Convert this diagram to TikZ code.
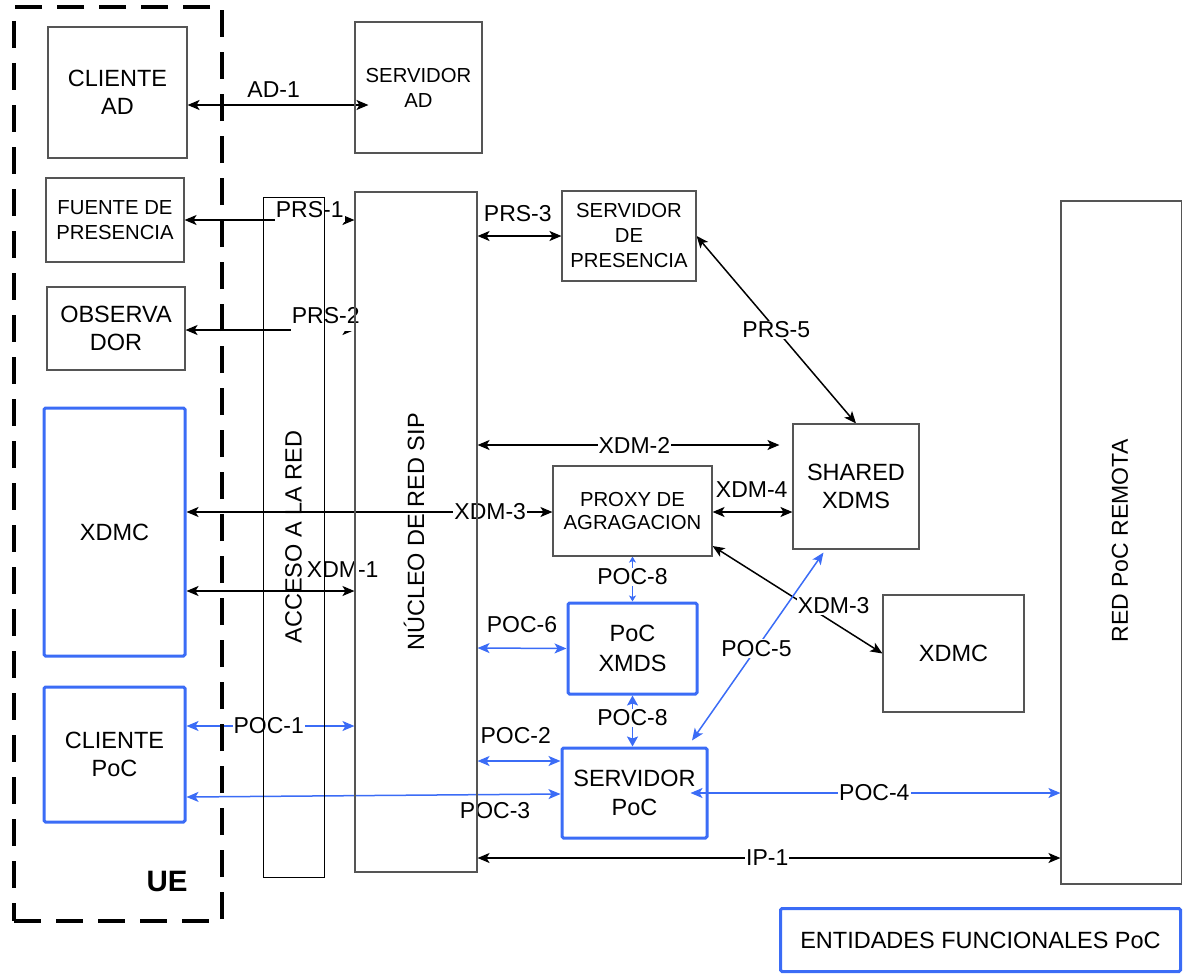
\documentclass[tikz,border=0pt]{standalone}
\usepackage{fontspec}
\setmainfont{Liberation Sans}
\usetikzlibrary{arrows.meta,calc}
\pgfdeclarelayer{bg}
\pgfsetlayers{bg,main}
\definecolor{pocblue}{RGB}{59,108,246}
\definecolor{boxgray}{RGB}{85,85,85}
\begin{document}
\begin{tikzpicture}[x=1pt,y=-1pt,
 box/.style={draw=boxgray, line width=1.1pt, inner sep=0pt, align=center, text=black},
 pocbox/.style={draw=pocblue, line width=3pt, rounded corners=1.5pt, inner sep=0pt, align=center},
 wh/.style 2 args={minimum width=#1pt, minimum height=#2pt},
 big/.style={font=\fontsize{23.5}{28}\selectfont},
 med/.style={font=\fontsize{20.3}{25}\selectfont},
 lab/.style={font=\fontsize{23}{26}\selectfont, inner sep=1pt},
 onl/.style={lab, fill=white},
 conn/.style={line width=1.5pt, {Stealth[length=12pt,width=10pt,inset=3pt]}-{Stealth[length=12pt,width=10pt,inset=3pt]}},
 pconn/.style={conn, draw=pocblue},
 smallp/.style={line width=1.5pt, draw=pocblue, {Stealth[length=6pt,width=7pt,inset=1.5pt]}-{Stealth[length=6pt,width=7pt,inset=1.5pt]}},
]
\useasboundingbox (0,0) rectangle (1183,974);

% UE region
\node[draw, line width=3.5pt, dash pattern=on 27pt off 15pt, wh={208}{914}, inner sep=0pt] (ue) at (118,464) {};
\node[font=\fontsize{29.5}{32}\selectfont\bfseries] (uelabel) at (167,881) {UE};

% boxes
\node[box, big, wh={139}{131}] (clientead) at (117.5,92.5) {CLIENTE\\AD};
\node[box, med, wh={127}{131}] (servad) at (418.5,87.5) {SERVIDOR\\AD};
\node[box, med, wh={138}{84}] (fuente) at (115,220) {FUENTE DE\\PRESENCIA};
\node[box, big, wh={138}{83}] (obs) at (116,328.5) {OBSERVA\\DOR};
\node[pocbox, big, wh={141}{248}] (xdmcL) at (114.5,532) {XDMC};
\node[pocbox, big, wh={141}{135}] (cpoc) at (114.5,754.5) {CLIENTE\\PoC};
\node[box, draw=black, line width=0.9pt, wh={61}{680}] (acceso) at (293.5,537) {};
\node[big, rotate=90] (accesotxt) at (293.5,537) {ACCESO A LA RED};
\node[box, wh={122}{680}] (nucleo) at (416,532) {};
\node[big, rotate=90] (nucleotxt) at (414,532) {NÚCLEO DE RED SIP};
\node[box, med, wh={134}{90}] (servpres) at (629,236) {SERVIDOR\\DE\\PRESENCIA};
\node[box, font=\fontsize{23.5}{27.5}\selectfont, wh={126}{125}] (shared) at (856,486.5) {SHARED\\XDMS};
\node[box, font=\fontsize{20.3}{23}\selectfont, wh={159}{90}] (proxy) at (632.5,511) {PROXY DE\\AGRAGACION};
\node[pocbox, font=\fontsize{23.5}{30}\selectfont, wh={129}{91}] (pocx) at (632.5,648.5) {PoC\\XMDS};
\node[pocbox, font=\fontsize{23.5}{28.5}\selectfont, wh={145}{90}] (servpoc) at (634.5,793) {SERVIDOR\\PoC};
\node[box, big, wh={141}{117}] (xdmcR) at (953.5,653.5) {XDMC};
\node[box, wh={120.5}{683}] (red) at (1121.25,542.5) {};
\node[font=\fontsize{23}{26}\selectfont, rotate=90] (redtxt) at (1120,541) {RED PoC REMOTA};
\node[pocbox, font=\fontsize{23.5}{28}\selectfont, wh={400}{63}] (ent) at (980.5,940) {ENTIDADES FUNCIONALES PoC};

\begin{pgfonlayer}{bg}
% black connectors
\draw[conn, shorten >=-14pt] (clientead.east |- 0,105) -- (servad.west |- 0,105)
  node[pos=.516, anchor=base, yshift=8pt, lab] (lad1) {AD-1};
\draw[conn] (fuente.east |- 0,220) -- (nucleo.west |- 0,220)
  node[pos=.737, anchor=base, yshift=3pt, onl, text depth=3.5pt] (lprs1) {PRS-1};
\draw[conn] (obs.east |- 0,330) -- (nucleo.west |- 0,330)
  node[pos=.83, anchor=base, yshift=7pt, onl, text depth=7.3pt] (lprs2) {PRS-2};
\draw[conn] (nucleo.east |- 0,236) -- (servpres.west)
  node[pos=.48, anchor=base, yshift=15pt, lab] (lprs3) {PRS-3};
\draw[conn] (servpres.east) -- (shared.north)
  node[pos=.5, onl] (lprs5) {PRS-5};
\draw[conn, shorten >=13pt] (nucleo.east |- 0,445) -- (shared.west |- 0,445)
  node[pos=.498, onl] (lxdm2) {XDM-2};
\draw[conn] (xdmcL.east |- 0,512) -- (proxy.west |- 0,512)
  node[pos=.83, onl] (lxdm3a) {XDM-3};
\draw[conn] (proxy.east |- 0,512) -- (shared.west |- 0,512)
  node[pos=.49, anchor=base, yshift=14.5pt, lab] (lxdm4) {XDM-4};
\draw[conn] (proxy.east |- 0,546) -- (xdmcR.west)
  node[pos=.713, yshift=17pt, onl] (lxdm3b) {XDM-3};
\draw[conn] (xdmcL.east |- 0,591) -- (nucleo.west |- 0,591)
  node[pos=.93, anchor=base, yshift=14pt, lab] (lxdm1) {XDM-1};
\draw[conn] (nucleo.east |- 0,858) -- (red.west |- 0,858)
  node[pos=.497, onl] (lip1) {IP-1};
% blue connectors
\draw[smallp] (proxy.south) -- (pocx.north)
  node[pos=.45, onl] (lpoc8a) {POC-8};
\draw[pconn, {Stealth[length=10pt,width=11pt,inset=2pt]}-{Stealth[length=10pt,width=11pt,inset=2pt]}] (pocx.south) -- (pocx.south |- servpoc.north)
  node[pos=.44, onl] (lpoc8b) {POC-8};
\draw[pconn] (nucleo.east |- 0,648) -- (pocx.west)
  node[pos=.5, anchor=base, yshift=16pt, lab] (lpoc6) {POC-6};
\draw[pconn] (nucleo.east |- 0,761) -- (servpoc.west |- 0,761)
  node[pos=.46, anchor=base, yshift=18pt, lab] (lpoc2) {POC-2};
\draw[pconn] (cpoc.east |- 0,726) -- (nucleo.west |- 0,726)
  node[pos=.49, onl] (lpoc1) {POC-1};
\draw[pconn] (cpoc.east |- 0,797) -- (servpoc.west |- 0,794)
  node[pos=.825, anchor=base, yshift=-24pt, lab] (lpoc3) {POC-3};
\draw[pconn] ([xshift=-18pt]servpoc.east) -- (red.west |- servpoc.east)
  node[pos=.497, onl] (lpoc4) {POC-4};
\draw[pconn] ($(servpoc.north)+(57.5,-6)$) -- ($(shared.south west)+(31,3)$)
  node[pos=.49, onl] (lpoc5) {POC-5};
\end{pgfonlayer}
\end{tikzpicture}
\end{document}
